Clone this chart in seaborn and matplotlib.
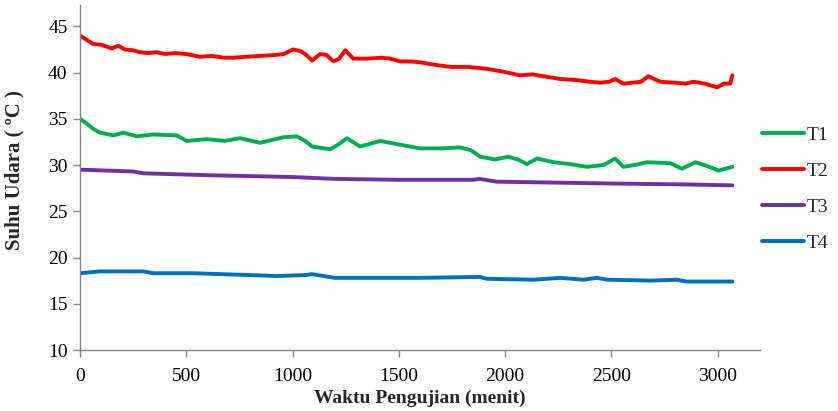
import pandas as pd
import matplotlib
matplotlib.use('Agg')
import matplotlib.pyplot as plt
import seaborn as sns

# data (time in minutes, temperature in degC)
t1_time = [0, 30, 63, 94, 157, 204, 267, 345, 455, 502, 596, 680, 753, 847, 957, 1020, 1060, 1092, 1177, 1215,
           1256, 1318, 1412, 1507, 1600, 1700, 1789, 1840, 1883, 1954, 2015, 2060, 2103, 2150, 2230, 2307, 2385, 2464,
           2518, 2557, 2610, 2668, 2778, 2832, 2896, 2950, 3005, 3070]
t1_temp = [35.0, 34.5, 33.9, 33.5, 33.2, 33.5, 33.1, 33.3, 33.2, 32.6, 32.8, 32.6, 32.9, 32.4, 33.0, 33.1, 32.6, 32.0,
           31.7, 32.2, 32.9, 32.0, 32.6, 32.2, 31.8, 31.8, 31.9, 31.6, 30.9, 30.6, 30.9, 30.6, 30.1, 30.7, 30.3, 30.1,
           29.8, 30.0, 30.7, 29.8, 30.0, 30.3, 30.2, 29.6, 30.3, 29.9, 29.4, 29.8]

t2_time = [0, 20, 60, 100, 150, 180, 210, 250, 282, 320, 360, 400, 450, 500, 565, 620, 680, 721, 780, 850,
           920, 960, 1003, 1040, 1070, 1092, 1130, 1160, 1192, 1220, 1248, 1286, 1350, 1420, 1460, 1507, 1560, 1600,
           1680, 1750, 1830, 1914, 1990, 2070, 2130, 2180, 2260, 2330, 2400, 2447, 2490, 2518, 2557, 2600, 2640, 2675,
           2730, 2800, 2850, 2887, 2940, 2998, 3030, 3060, 3070]
t2_temp = [44.0, 43.7, 43.1, 43.0, 42.6, 42.9, 42.5, 42.4, 42.2, 42.1, 42.2, 42.0, 42.1, 42.0, 41.7, 41.8, 41.6, 41.6,
           41.7, 41.8, 41.9, 42.0, 42.5, 42.3, 41.8, 41.3, 42.0, 41.9, 41.2, 41.5, 42.4, 41.5, 41.5, 41.6, 41.5, 41.2,
           41.2, 41.1, 40.8, 40.6, 40.6, 40.4, 40.1, 39.7, 39.8, 39.6, 39.3, 39.2, 39.0, 38.9, 39.0, 39.3, 38.8, 38.9,
           39.0, 39.6, 39.0, 38.9, 38.8, 39.0, 38.8, 38.4, 38.8, 38.8, 39.7]

t3_time = [0, 250, 300, 600, 1000, 1200, 1500, 1850, 1880, 1960, 2500, 2850, 3070]
t3_temp = [29.5, 29.3, 29.1, 28.9, 28.7, 28.5, 28.4, 28.4, 28.5, 28.2, 28.0, 27.9, 27.8]

t4_time = [0, 94, 298, 345, 533, 800, 925, 1060, 1092, 1200, 1600, 1883, 1914, 2134, 2260, 2370, 2432, 2480,
           2685, 2808, 2855, 3070]
t4_temp = [18.3, 18.5, 18.5, 18.3, 18.3, 18.1, 18.0, 18.1, 18.2, 17.8, 17.8, 17.9, 17.7, 17.6, 17.8, 17.6, 17.8, 17.6,
           17.5, 17.6, 17.4, 17.4]

series = ['T1', 'T2', 'T3', 'T4']
colors = {'T1': '#00b050', 'T2': '#ff0000', 'T3': '#7030a0', 'T4': '#0070c0'}

frames = []
for name, tt, vv in [('T1', t1_time, t1_temp), ('T2', t2_time, t2_temp),
                     ('T3', t3_time, t3_temp), ('T4', t4_time, t4_temp)]:
    frames.append(pd.DataFrame({'waktu': tt, 'suhu': vv, 'seri': name}))
df = pd.concat(frames, ignore_index=True)

sns.set_style('white')
plt.rcParams['font.family'] = ['Liberation Serif', 'DejaVu Serif']

fig = plt.figure(figsize=(8.38, 4.11), dpi=100)
ax = fig.add_axes([80/838, 61/411, 680/838, 345/411])

sns.lineplot(data=df, x='waktu', y='suhu', hue='seri', hue_order=series, palette=colors,
             estimator=None, sort=False, linewidth=2.8, ax=ax)

ax.set_xlim(0, 3200)
ax.set_ylim(10, 47.3)
ax.set_xticks(range(0, 3001, 500))
ax.set_yticks(range(10, 46, 5))
ax.tick_params(axis='both', direction='out', length=5, width=1, color='#868686',
               labelsize=14, labelcolor='black', bottom=True, left=True, pad=4)
ax.tick_params(axis='x', pad=8)
for s in ['top', 'right']:
    ax.spines[s].set_visible(False)
for s in ['left', 'bottom']:
    ax.spines[s].set_color('#868686')
    ax.spines[s].set_linewidth(1)

ax.set_xlabel('Waktu Pengujian (menit)', fontsize=14, fontweight='bold')
ax.set_ylabel('Suhu Udara ( ºC )', fontsize=15, fontweight='bold')
# label anchors: x label top edge, y label right edge
ax.xaxis.set_label_coords(0.5, -40/345, transform=ax.transAxes)
ax.yaxis.set_label_coords(-56/680, (350 - 170)/345, transform=ax.transAxes)

ax.legend(loc='center left', bbox_to_anchor=(762/838, 1 - 189/411), bbox_transform=fig.transFigure,
          frameon=False, fontsize=14, handlelength=2.15, handletextpad=0.15, labelspacing=0.95,
          borderpad=0, borderaxespad=0, title=None)

fig.savefig('out.png', dpi=100)
